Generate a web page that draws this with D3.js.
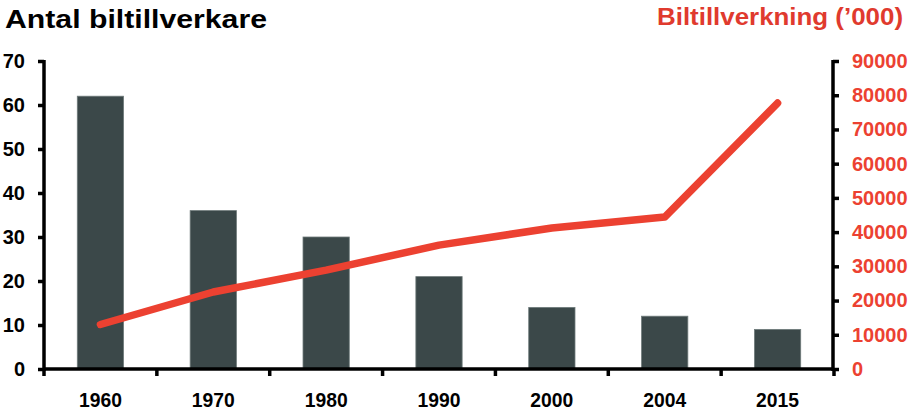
<!DOCTYPE html>
<html><head><meta charset="utf-8">
<script src="https://cdn.jsdelivr.net/npm/d3@7"></script>
<style>body{margin:0;background:#fff}svg{display:block;font-family:"Liberation Sans",Arial,sans-serif}</style>
</head><body><svg id="c" width="914" height="414"></svg>
<script>
const years = ["1960","1970","1980","1990","2000","2004","2015"];
const manufacturers = [62, 36, 30, 21, 14, 12, 9];
const production = [13000, 22500, 28900, 36200, 41200, 44400, 77700];
const leftTicks = [0,10,20,30,40,50,60,70];
const rightTicks = [0,10000,20000,30000,40000,50000,60000,70000,80000,90000];

const svg = d3.select("#c");
const x0 = 44, x1 = 834, yBase = 369, yTop = 61;
const x = d3.scaleBand().domain(years).range([x0, x1]).paddingInner(0.59).paddingOuter(0.295);
const yL = d3.scaleLinear().domain([0,70]).range([yBase, yTop]);
const yR = d3.scaleLinear().domain([0,90000]).range([yBase, yTop]);

// bars
svg.append("g").selectAll("rect").data(years).join("rect")
  .attr("x", d => x(d)).attr("width", x.bandwidth())
  .attr("y", (d,i) => yL(manufacturers[i]))
  .attr("height", (d,i) => yBase - yL(manufacturers[i]))
  .attr("fill", "#3b4849").attr("stroke", "#6f7b7b").attr("stroke-width", 0.8);

// line
const line = d3.line().x((d,i) => x(years[i]) + x.bandwidth()/2).y(d => yR(d));
svg.append("path").datum(production).attr("d", line)
  .attr("fill","none").attr("stroke","#ec4131").attr("stroke-width",7.5)
  .attr("stroke-linecap","round").attr("stroke-linejoin","round");

// left axis
const gl = svg.append("g").attr("transform", `translate(${x0},0)`)
  .call(d3.axisLeft(yL).tickValues(leftTicks).tickSize(6).tickPadding(13).tickSizeOuter(0));
gl.select(".domain").attr("stroke","#000").attr("stroke-width",3.5).attr("d", `M0,${yTop-1}V${yBase+2}`);
gl.selectAll(".tick line").attr("stroke","#000").attr("stroke-width",3.5);
gl.selectAll(".tick text").attr("fill","#000").style("font-size","20px").style("font-weight","bold");

// right axis
const gr = svg.append("g").attr("transform", `translate(${x1-1},0)`)
  .call(d3.axisRight(yR).tickValues(rightTicks).tickFormat(d3.format("d")).tickSize(6).tickPadding(13).tickSizeOuter(0));
gr.select(".domain").attr("stroke","#000").attr("stroke-width",3.5).attr("d", `M0,${yTop-1}V${yBase+2}`);
gr.selectAll(".tick line").attr("stroke","#000").attr("stroke-width",3.5);
gr.selectAll(".tick text").attr("fill","#ec4131").style("font-size","20px").style("font-weight","bold");

// bottom axis
const gb = svg.append("g").attr("transform", `translate(0,${yBase})`)
  .call(d3.axisBottom(x).tickSize(0).tickPadding(24));
gb.select(".domain").attr("stroke","#000").attr("stroke-width",3.5).attr("d", `M${x0},0H${x1}`);
gb.selectAll(".tick text").attr("fill","#000").style("font-size","20px").style("font-weight","bold")
  .attr("textLength",43).attr("lengthAdjust","spacingAndGlyphs");
const step = x.step();
const bounds = d3.range(years.length + 1).map(i => x0 + i * step);
svg.append("g").selectAll("line").data(bounds).join("line")
  .attr("x1", d => d).attr("x2", d => d).attr("y1", yBase).attr("y2", yBase + 7)
  .attr("stroke","#000").attr("stroke-width",3.5);

// titles
svg.append("text").attr("x",5).attr("y",28).text("Antal biltillverkare")
  .attr("fill","#000").style("font-size","25px").style("font-weight","bold")
  .attr("textLength",262).attr("lengthAdjust","spacingAndGlyphs");
svg.append("text").attr("x",903).attr("y",25).attr("text-anchor","end").text("Biltillverkning (’000)")
  .attr("fill","#e03a2e").style("font-size","24px").style("font-weight","bold")
  .attr("textLength",246).attr("lengthAdjust","spacingAndGlyphs");
</script></body></html>
